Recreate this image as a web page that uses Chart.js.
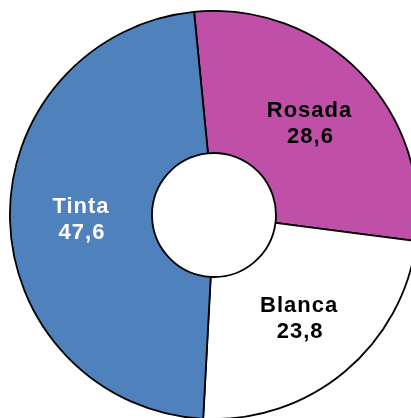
<!DOCTYPE html>
<html>
<head>
<meta charset="utf-8">
<script src="https://cdn.jsdelivr.net/npm/chart.js@4/dist/chart.umd.min.js"></script>
<style>
  html, body { margin:0; padding:0; background:#fff; overflow:hidden; width:411px; height:418px; }
  #wrap { position:absolute; left:9px; top:10px; width:410px; height:410px; }
</style>
</head>
<body>
<div id="wrap"><canvas id="graficoDona" width="410" height="410"></canvas></div>
<script>
const categorias = ["Rosada", "Blanca", "Tinta"];
const valores = [28.6, 23.8, 47.6];
const colores = ["#C04FA8", "#FFFFFF", "#4F81BD"];
const coloresTexto = ["#000000", "#000000", "#FFFFFF"];

// etiquetas dentro de cada sector
const etiquetas = {
    id: "etiquetas",
    afterDatasetsDraw(chart) {
        const ctx = chart.ctx;
        const meta = chart.getDatasetMeta(0);
        ctx.save();
        ctx.font = "bold 22px 'Liberation Sans', Arial, sans-serif";
        if ("letterSpacing" in ctx) ctx.letterSpacing = "1px";
        ctx.textAlign = "center";
        ctx.textBaseline = "middle";
        meta.data.forEach((arc, i) => {
            const p = arc.tooltipPosition();
            ctx.fillStyle = coloresTexto[i];
            ctx.fillText(categorias[i], p.x, p.y - 11);
            ctx.fillText(String(valores[i]).replace(".", ","), p.x + 1, p.y + 15);
        });
        ctx.restore();
    }
};

let miCanvas = document.getElementById("graficoDona").getContext("2d");
var chart = new Chart(miCanvas, {
    type: "doughnut",
    data: {
        labels: categorias,
        datasets: [
            {
                data: valores,
                backgroundColor: colores,
                borderColor: "#000000",
                borderWidth: 1.8
            }
        ]
    },
    options: {
        responsive: false,
        animation: false,
        rotation: -5.6,
        cutout: 62,
        events: [],
        plugins: {
            legend: { display: false },
            tooltip: { enabled: false }
        }
    },
    plugins: [etiquetas]
});
</script>
</body>
</html>
